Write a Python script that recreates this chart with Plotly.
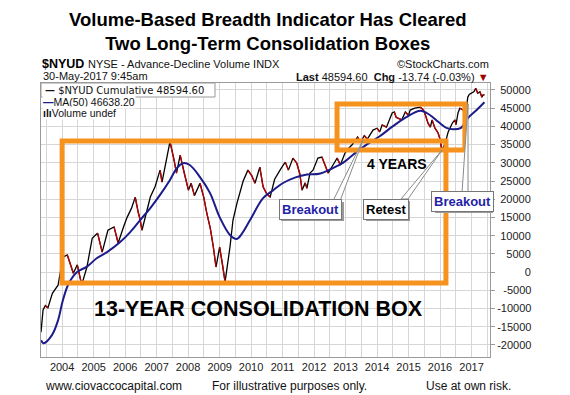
import plotly.graph_objects as go

# ---------------- data ----------------
dates = [
    "2003-05-01", "2003-05-25", "2003-06-20", "2003-07-20", "2003-09-10", "2003-11-15",
    "2004-01-10", "2004-03-01", "2004-04-01", "2004-05-10", "2004-06-25", "2004-08-15",
    "2004-10-15", "2004-12-15", "2005-01-20", "2005-02-15", "2005-04-10", "2005-06-15",
    "2005-08-25", "2005-10-12", "2005-12-15", "2006-01-25", "2006-03-15", "2006-04-28",
    "2006-06-01", "2006-06-25", "2006-07-15", "2006-09-05", "2006-10-20", "2006-12-15",
    "2007-02-10", "2007-03-05", "2007-04-20", "2007-06-05", "2007-07-20", "2007-08-20",
    "2007-10-01", "2007-11-18", "2008-01-05", "2008-02-05", "2008-03-15", "2008-05-18",
    "2008-07-01", "2008-08-05", "2008-09-15", "2008-10-20", "2008-11-20", "2009-01-01",
    "2009-02-05", "2009-03-05", "2009-05-01", "2009-06-05", "2009-07-22", "2009-10-01",
    "2009-11-25", "2010-01-08", "2010-02-15", "2010-04-12", "2010-05-20", "2010-07-01",
    "2010-08-10", "2010-10-01", "2010-12-15", "2011-02-01", "2011-03-10", "2011-05-01",
    "2011-06-15", "2011-07-20", "2011-08-15", "2011-09-20", "2011-10-10", "2011-11-15",
    "2011-12-20", "2012-02-15", "2012-04-01", "2012-05-08", "2012-06-12", "2012-08-08",
    "2012-09-25", "2012-11-01", "2012-12-25", "2013-02-05", "2013-03-15", "2013-04-28",
    "2013-05-20", "2013-06-24", "2013-08-05", "2013-09-10", "2013-11-15", "2014-01-01",
    "2014-02-01", "2014-03-01", "2014-04-20", "2014-06-25", "2014-07-20", "2014-08-10",
    "2014-10-15", "2014-11-25", "2015-01-01", "2015-01-20", "2015-03-15", "2015-05-15",
    "2015-06-12", "2015-07-08", "2015-08-15", "2015-09-12", "2015-10-01", "2015-11-02",
    "2015-12-10", "2016-01-01", "2016-01-22", "2016-02-12", "2016-03-01", "2016-04-05",
    "2016-04-28", "2016-05-25", "2016-06-22", "2016-07-05", "2016-07-28", "2016-08-18",
    "2016-09-25", "2016-10-20", "2016-11-04", "2016-11-18", "2016-12-05", "2017-01-01",
    "2017-01-30", "2017-02-18", "2017-03-14", "2017-04-08", "2017-05-01", "2017-05-15",
    "2017-05-30",
]
cumulative = [
    -16500, -10400, -9200, -9800, -5800, -3600,
    4100, 4700, 2500, -300, 2000, -3500,
    1400, 9300, 10100, 10700, 5500, 11500,
    12400, 8000, 12500, 15100, 17500, 20600,
    16500, 14300, 11500, 16500, 20600, 23500,
    28000, 24700, 30000, 35800, 31000, 27200,
    32100, 27000, 22500, 24400, 21000, 24400,
    20500, 16200, 12000, 6900, 1400, 6900,
    2000, -2700, 6900, 14300, 19000, 25000,
    28000, 26500, 24400, 28800, 23400, 21500,
    20600, 25500, 28500, 30200, 28000, 31300,
    29900, 27000, 22500, 24500, 23000, 27200,
    28000, 31300, 31600, 29400, 27200, 29400,
    31300, 29400, 32700, 34000, 34900, 36300,
    37100, 35600, 37500, 36500, 39000, 39500,
    38500, 40400, 39800, 43700, 44000, 42500,
    41800, 44000, 43000, 44500, 45000, 45300,
    44800, 43700, 40900, 39800, 41800, 39600,
    38200, 36500, 33500, 34500, 35400, 38500,
    39600, 41000, 41800, 40500, 43700, 45000,
    44500, 44000, 45300, 48000, 48800, 49100,
    49600, 50500, 49100, 49500, 48000, 48700,
    48594.60,
]
ma_dates = [
    "2003-05-01", "2003-06-01", "2003-09-05", "2003-11-15", "2004-01-10", "2004-03-20",
    "2004-06-20", "2004-10-15", "2005-02-05", "2005-06-05", "2005-11-01", "2006-03-01",
    "2006-06-25", "2006-10-20", "2007-02-10", "2007-06-05", "2007-08-25", "2007-11-05",
    "2008-01-20", "2008-05-18", "2008-09-12", "2009-01-01", "2009-05-01", "2009-07-20",
    "2009-09-15", "2009-12-20", "2010-05-20", "2010-09-15", "2011-01-01", "2011-06-01",
    "2011-10-10", "2012-03-01", "2012-08-01", "2012-12-01", "2013-04-01", "2013-09-01",
    "2014-02-01", "2014-07-01", "2014-12-01", "2015-05-20", "2015-09-01", "2015-12-15",
    "2016-03-15", "2016-06-01", "2016-09-01", "2016-11-20", "2017-03-01", "2017-05-30",
]
ma50 = [
    -18700, -19500, -17300, -13200, -7700, -3000,
    0, 1500, 3800, 5500, 8200, 11000,
    14300, 17600, 21200, 25300, 28600, 29900,
    29400, 26100, 21700, 15100, 10200, 9100,
    10500, 14300, 20300, 22500, 24400, 26000,
    26800, 27000, 28500, 30000, 32300, 35000,
    37300, 40000, 42500, 44300, 43200, 41200,
    39600, 39200, 39600, 42300, 44500, 46638.20,
]
year_labels = [str(y) for y in range(2004, 2018)]
y_ticks = list(range(-20000, 50001, 5000))

# consolidation boxes (annotation graphics)
big_box = dict(x0="2004-01-01", x1="2016-03-10", y0=-3000, y1=36000)
small_box = dict(x0="2012-09-24", x1="2016-10-16", y0=33500, y1=46150)

# ---------------- geometry helpers ----------------
# the page body has an 8px margin, so the figure is drawn 8px right/down
OFF = 8
W, H = 570 - OFF, 395 - OFF
L, R, T, B = 41, 490, 83, 357          # plot area in window pixels


def px(x):
    return (x - L) / (R - L)


def py(y):
    return (B - y) / (B - T)


FONT = "Liberation Sans, Arial, sans-serif"
ORANGE = "#F6921E"
NAVY = "#1c1c8a"
RED = "#c00000"

fig = go.Figure()

# main line: black, red where falling
fig.add_trace(go.Scatter(x=dates, y=cumulative, mode="lines",
                         line=dict(color="black", width=1.3), hoverinfo="skip"))
rx, ry = [], []
for i in range(1, len(cumulative)):
    if cumulative[i] < cumulative[i - 1]:
        rx += [dates[i - 1], dates[i], None]
        ry += [cumulative[i - 1], cumulative[i], None]
fig.add_trace(go.Scatter(x=rx, y=ry, mode="lines",
                         line=dict(color=RED, width=1.3), hoverinfo="skip"))
fig.add_trace(go.Scatter(x=ma_dates, y=ma50, mode="lines", line_shape="spline",
                         line=dict(color=NAVY, width=2), hoverinfo="skip"))

# y tick labels, right aligned by padding with figure spaces


def emw(s):
    return sum(0.556 if c.isdigit() else 0.333 for c in s)


raw = [str(v) for v in y_ticks]
maxw = max(emw(s) for s in raw)
ytext = []
for s in raw:
    d = maxw - emw(s)
    n = int(d / 0.556 + 1e-6)
    rem = d - n * 0.556
    ytext.append("\u2007" * n + ("\u2008" if rem > 0.15 else "") + s)

shapes = []
for bx in (big_box, small_box):
    shapes.append(dict(type="rect", xref="x", yref="y", layer="above",
                       line=dict(color=ORANGE, width=5), fillcolor="rgba(0,0,0,0)", **bx))

# legend row-1 box
shapes.append(dict(type="rect", xref="paper", yref="paper", x0=px(41), x1=px(215),
                   y0=py(97), y1=py(83), fillcolor="white", line=dict(color="#999", width=1),
                   layer="above"))


# callout wedges (pointer from box to point)
def wedge(bx1, bx2, by, tx, ty):
    return dict(type="path", xref="paper", yref="paper", layer="above",
                path=f"M {px(bx1)},{py(by)} L {px(tx)},{py(ty)} L {px(bx2)},{py(by)} Z",
                fillcolor="white", line=dict(color="#8a8a8a", width=1))


shapes.append(wedge(333, 340, 201, 363, 140))
shapes.append(wedge(401, 408, 199, 442, 150))
shapes.append(wedge(462, 468, 193, 468, 104))

# callout shadows
for (x0, y0, x1, y1) in [(279, 200, 342, 219), (364, 199, 408, 219), (433, 192, 491, 211)]:
    shapes.append(dict(type="rect", xref="paper", yref="paper", layer="above",
                       x0=px(x0 + 2), x1=px(x1 + 2), y0=py(y1 + 2), y1=py(y0 + 2),
                       fillcolor="#9a9a9a", line=dict(width=0)))

ann = []


def text(x, y, s, size=11, color="#111", xanchor="left", family=FONT, **kw):
    ann.append(dict(x=px(x), y=py(y), xref="paper", yref="paper", text=s, showarrow=False,
                    xanchor=xanchor, yanchor="middle",
                    font=dict(size=size, color=color, family=family), **kw))


text(268, 31, "<b>Volume-Based Breadth Indicator Has Cleared<br>Two Long-Term Consolidation Boxes</b>",
     size=18.5, color="black", xanchor="center")
text(40, 64, "<b>$NYUD</b>", size=12.5, color="black")
text(86, 64, "NYSE - Advance-Decline Volume INDX", size=11)
text(491, 64, "©StockCharts.com", size=11, xanchor="right")
text(41, 76, "30-May-2017 9:45am", size=11)
text(491, 77, "<b>Last</b> 48594.60  <b>Chg</b> -13.74 (-0.03%) <span style='color:#a00000'>▼</span>",
     size=11, xanchor="right")

# legend
text(43, 90.5, "<b>—</b> $NYUD Cumulative 48594.60", size=10, family="DejaVu Sans, Verdana", color="#111")
text(42, 102, f"<span style='color:{NAVY}'><b>—</b></span>MA(50) 46638.20", size=10.5,
     bgcolor="white", borderpad=0)
text(42, 112.5, "<b>ılı</b>Volume undef", size=10.5, bgcolor="white", borderpad=0)

# box labels
text(397, 164, "<b>4 YEARS</b>", size=14, color="black", xanchor="center")
text(258, 309, "<b>13-YEAR CONSOLIDATION BOX</b>", size=21.5, color="black", xanchor="center")

# callouts
for (cx, cy, s, col) in [(310.5, 209.5, "Breakout", "#1f1fa8"), (386, 209, "Retest", "black"),
                         (462, 201.5, "Breakout", "#1f1fa8")]:
    text(cx, cy, f"<b>{s}</b>", size=13, color=col, xanchor="center",
         bgcolor="white", bordercolor="#777", borderwidth=1, borderpad=2)

# footer
text(43, 386, "www.ciovaccocapital.com", size=12)
text(289, 386, "For illustrative purposes only.", size=12, xanchor="center")
text(513, 386, "Use at own risk.", size=12, xanchor="right")

GRID = "#d6d6d6"
fig.update_layout(
    width=W, height=H,
    margin=dict(l=L - OFF, r=W - (R - OFF), t=T - OFF, b=H - (B - OFF)),
    paper_bgcolor="white", plot_bgcolor="white", showlegend=False,
    font=dict(family=FONT, size=11, color="#222"),
    shapes=shapes, annotations=ann,
    xaxis=dict(type="date", range=["2003-05-01", "2017-08-03"], tick0="2004-01-01", dtick="M12",
               tickformat="%Y", showgrid=True, gridcolor=GRID, gridwidth=1,
               minor=dict(dtick="M6", showgrid=True, gridcolor=GRID),
               showline=True, mirror=True, linecolor="#9a9a9a", ticks="", zeroline=False,
               tickfont=dict(size=11, color="#222"), fixedrange=True),
    yaxis=dict(side="right", range=[-23300, 51920], tickmode="array", tickvals=y_ticks,
               ticktext=ytext, showgrid=True, gridcolor=GRID, zeroline=False,
               showline=True, mirror=True, linecolor="#9a9a9a", ticks="outside", ticklen=4,
               tickcolor="#9a9a9a", tickfont=dict(size=11, color="#222"), fixedrange=True),
)

fig.write_html("out.html")
